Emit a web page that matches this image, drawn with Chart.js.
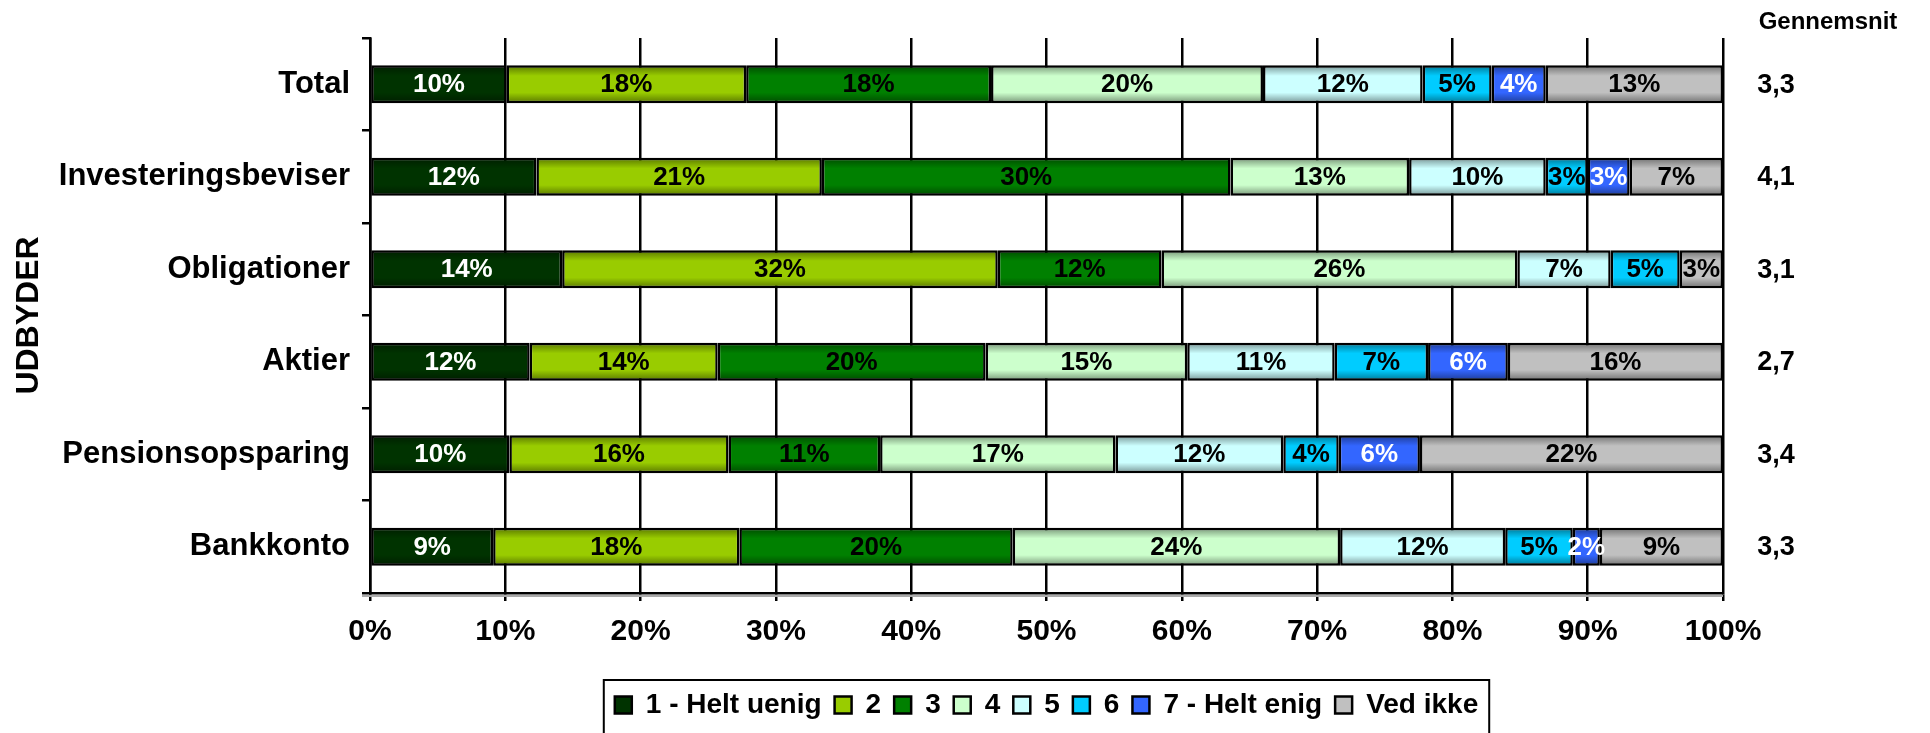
<!DOCTYPE html>
<html>
<head>
<meta charset="utf-8">
<script src="https://cdn.jsdelivr.net/npm/chart.js@4.4.1/dist/chart.umd.min.js"></script>
<style>
  html, body { margin: 0; padding: 0; background: #fff; }
</style>
</head>
<body>
<canvas id="chart" width="1930" height="733"></canvas>
<script>
// Kategorier og serier (andele i procent)
const categories = ['Total', 'Investeringsbeviser', 'Obligationer', 'Aktier', 'Pensionsopsparing', 'Bankkonto'];
const seriesNames = ['1 - Helt uenig', '2', '3', '4', '5', '6', '7 - Helt enig', 'Ved ikke'];
const seriesColors = ['#003300', '#99CC00', '#008000', '#CCFFCC', '#CCFFFF', '#00CCFF', '#3366FF', '#C0C0C0'];
const labelColors = ['#fff', '#000', '#000', '#000', '#000', '#000', '#fff', '#000'];

const heltUenig = [10.1, 12.3, 14.2, 11.8, 10.3, 9.1];
const svar2     = [17.7, 21.1, 32.2, 13.9, 16.2, 18.2];
const svar3     = [18.1, 30.2, 12.1, 19.8, 11.2, 20.2];
const svar4     = [20.1, 13.2, 26.3, 14.9, 17.4, 24.2];
const svar5     = [11.8, 10.1, 6.9, 10.9, 12.4, 12.2];
const svar6     = [5.1, 3.1, 5.1, 6.9, 4.1, 5.0];
const heltEnig  = [4.0, 3.1, 0, 5.9, 6.0, 2.0];
const vedIkke   = [13.1, 6.9, 3.2, 15.9, 22.4, 9.1];

const gennemsnit = ['3,3', '4,1', '3,1', '2,7', '3,4', '3,3'];
const xTickValues = [0, 10, 20, 30, 40, 50, 60, 70, 80, 90, 100];

const seriesData = [heltUenig, svar2, svar3, svar4, svar5, svar6, heltEnig, vedIkke];

Chart.defaults.font.family = '"Liberation Sans", Arial, sans-serif';
Chart.defaults.font.weight = 'bold';
Chart.defaults.color = '#000';

// Skygge-effekt og procenttal i søjlerne
const barDecor = {
    id: 'barDecor',
    afterDatasetsDraw(chart) {
        const ctx = chart.ctx;
        ctx.save();
        chart.data.datasets.forEach((ds, di) => {
            const meta = chart.getDatasetMeta(di);
            meta.data.forEach((el, i) => {
                const v = ds.data[i];
                if (!v) return;
                const p = el.getProps(['x', 'y', 'base', 'height'], true);
                const left = Math.min(p.x, p.base);
                const w = Math.abs(p.x - p.base);
                const top = p.y - p.height / 2;
                const g = ctx.createLinearGradient(0, top, 0, top + p.height);
                g.addColorStop(0, 'rgba(0,0,0,0.42)');
                g.addColorStop(0.28, 'rgba(0,0,0,0)');
                g.addColorStop(0.72, 'rgba(0,0,0,0)');
                g.addColorStop(1, 'rgba(0,0,0,0.42)');
                ctx.fillStyle = g;
                ctx.fillRect(left + 1, top + 1, w - 2, p.height - 2);
            });
        });
        ctx.font = 'bold 26px "Liberation Sans", Arial, sans-serif';
        ctx.textAlign = 'center';
        ctx.textBaseline = 'middle';
        chart.data.datasets.forEach((ds, di) => {
            const meta = chart.getDatasetMeta(di);
            meta.data.forEach((el, i) => {
                const v = ds.data[i];
                if (!v || v < 1) return;
                const p = el.getProps(['x', 'y', 'base'], true);
                ctx.fillStyle = labelColors[di];
                ctx.fillText(Math.round(v) + '%', (p.x + p.base) / 2, p.y + 1);
            });
        });
        ctx.restore();
    },
    afterDraw(chart) {
        const ctx = chart.ctx;
        const yScale = chart.scales.y;
        const area = chart.chartArea;
        ctx.save();
        // grå skygge under x-aksen
        ctx.strokeStyle = '#aaa';
        ctx.lineWidth = 2;
        ctx.beginPath();
        ctx.moveTo(area.left - 8, area.bottom + 3);
        ctx.lineTo(area.right, area.bottom + 3);
        ctx.stroke();

        ctx.fillStyle = '#000';
        ctx.textAlign = 'center';
        ctx.textBaseline = 'middle';
        ctx.font = 'bold 24px "Liberation Sans", Arial, sans-serif';
        ctx.fillText('Gennemsnit', 1828, 22);
        ctx.font = 'bold 27px "Liberation Sans", Arial, sans-serif';
        gennemsnit.forEach((g, i) => {
            ctx.fillText(g, 1776, yScale.getPixelForValue(i) + 1);
        });
        // ramme om forklaringen
        const hb = chart.legend.legendHitBoxes;
        if (hb && hb.length) {
            const l = hb[0].left - 11;
            const r = hb[hb.length - 1].left + hb[hb.length - 1].width + 11;
            ctx.strokeStyle = '#000';
            ctx.lineWidth = 2;
            ctx.strokeRect(l, 680, r - l, 80);
        }
        ctx.restore();
    }
};

const ctx = document.getElementById('chart').getContext('2d');
new Chart(ctx, {
    type: 'bar',
    data: {
        labels: categories,
        datasets: seriesNames.map((name, i) => ({
            label: name,
            data: seriesData[i],
            backgroundColor: seriesColors[i],
            borderColor: '#000',
            borderWidth: 2.5,
            borderSkipped: false,
            barPercentage: 0.41,
            categoryPercentage: 1
        }))
    },
    options: {
        indexAxis: 'y',
        responsive: false,
        animation: false,
        layout: { padding: { top: 38, right: 207, bottom: 4, left: 0 } },
        scales: {
            x: {
                stacked: true,
                min: 0,
                max: 100,
                afterBuildTicks(scale) {
                    scale.ticks = xTickValues.map(v => ({ value: v }));
                },
                afterFit(scale) { scale.height = 85; },
                grid: { color: '#000', lineWidth: 2.5, tickLength: 8, drawTicks: true },
                border: { display: true, color: '#000', width: 2.5 },
                ticks: {
                    padding: 13,
                    font: { size: 30, weight: 'bold' },
                    callback: v => v + '%'
                }
            },
            y: {
                stacked: true,
                afterFit(scale) { scale.width = 370; },
                grid: { drawOnChartArea: false, color: '#000', lineWidth: 2.5, tickLength: 8, offset: true },
                border: { display: true, color: '#000', width: 2.5 },
                ticks: { padding: 12, font: { size: 31, weight: 'bold' } },
                title: {
                    display: true,
                    text: 'UDBYDER',
                    font: { size: 32, weight: 'bold' },
                    padding: { top: 10, bottom: 0 }
                }
            }
        },
        plugins: {
            legend: {
                position: 'bottom',
                fullSize: false,
                labels: {
                    boxWidth: 17,
                    boxHeight: 17,
                    padding: 13,
                    font: { size: 28, weight: 'bold' },
                    color: '#000'
                }
            },
            tooltip: { enabled: false }
        }
    },
    plugins: [barDecor]
});
</script>
</body>
</html>
